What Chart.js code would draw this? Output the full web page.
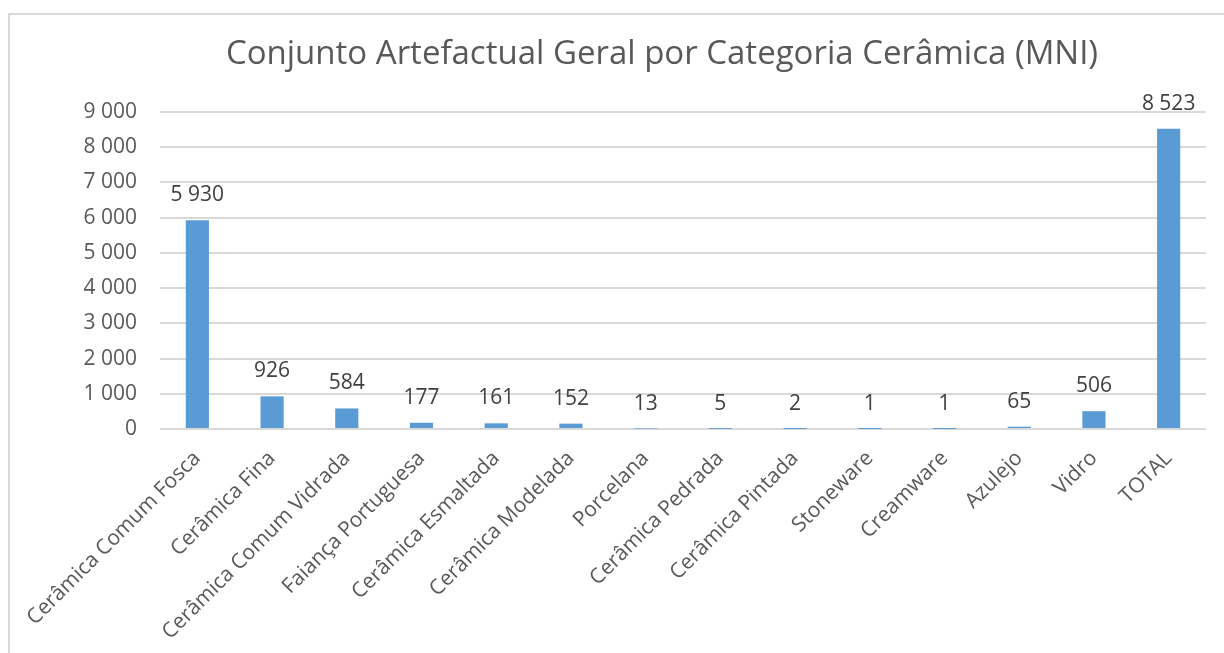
<!DOCTYPE html>
<html>
<head>
<meta charset="utf-8">
<script src="https://cdn.jsdelivr.net/npm/chart.js@4"></script>
<style>
  html, body { margin: 0; padding: 0; background: #fff; overflow: hidden; }
  #frame { position: absolute; left: 8px; top: 13px; width: 1240px; height: 700px; border: 2px solid #d9d9d9; box-sizing: border-box; }
  #wrap { position: absolute; left: 0; top: 0; width: 1224px; height: 653px; }
</style>
</head>
<body>
<div id="frame"></div>
<div id="wrap"><canvas id="chart"></canvas></div>
<script>
const categories = [
    'Cerâmica Comum Fosca', 'Cerâmica Fina', 'Cerâmica Comum Vidrada', 'Faiança Portuguesa',
    'Cerâmica Esmaltada', 'Cerâmica Modelada', 'Porcelana', 'Cerâmica Pedrada',
    'Cerâmica Pintada', 'Stoneware', 'Creamware', 'Azulejo', 'Vidro', 'TOTAL'
];
const mniValues = [5930, 926, 584, 177, 161, 152, 13, 5, 2, 1, 1, 65, 506, 8523];
const yTicks = [0, 1000, 2000, 3000, 4000, 5000, 6000, 7000, 8000, 9000];
const chartTitle = 'Conjunto Artefactual Geral por Categoria Cerâmica (MNI)';

const FONT = "'Open Sans', sans-serif";

// "8 523" style, space as thousands separator
function fmt(v) {
    return String(v).replace(/\B(?=(\d{3})+(?!\d))/g, ' ');
}

// value labels above each bar + the title (centred on the whole frame, not the canvas)
const extras = {
    id: 'extras',
    afterDatasetsDraw(chart) {
        const ctx = chart.ctx;
        const meta = chart.getDatasetMeta(0);
        ctx.save();
        ctx.font = '21px ' + FONT;
        ctx.fillStyle = '#404040';
        ctx.textAlign = 'center';
        ctx.textBaseline = 'middle';
        meta.data.forEach((bar, i) => {
            ctx.fillText(fmt(mniValues[i]), bar.x, bar.y - 25);
        });

        ctx.font = '33px ' + FONT;
        ctx.fillStyle = '#595959';
        ctx.fillText(chartTitle, chart.width / 2 + 50, 55);
        ctx.restore();
    }
};

const config = {
    type: 'bar',
    data: {
        labels: categories,
        datasets: [{
            label: 'MNI',
            data: mniValues,
            backgroundColor: '#5b9bd5',
            barPercentage: 0.31,
            categoryPercentage: 1
        }]
    },
    options: {
        responsive: true,
        maintainAspectRatio: false,
        animation: false,
        layout: { padding: { left: 0, right: 18, top: 112, bottom: 0 } },
        plugins: {
            legend: { display: false },
            tooltip: { enabled: false },
            title: { display: false }
        },
        scales: {
            x: {
                grid: { display: false },
                border: { display: false },
                ticks: {
                    color: '#595959',
                    font: { family: FONT, size: 21 },
                    minRotation: 45,
                    maxRotation: 45,
                    autoSkip: false,
                    padding: 9
                },
                afterFit(scale) { scale.height = 224; }
            },
            y: {
                min: 0,
                max: 9000,
                afterBuildTicks(scale) { scale.ticks = yTicks.map(v => ({ value: v })); },
                grid: { color: '#d9d9d9', lineWidth: 2, drawTicks: false },
                border: { display: false },
                ticks: {
                    color: '#595959',
                    font: { family: FONT, size: 21 },
                    padding: 23,
                    callback: (v) => fmt(v)
                },
                afterFit(scale) { scale.width = 160; }
            }
        }
    },
    plugins: [extras]
};

new Chart(document.getElementById('chart'), config);
</script>
</body>
</html>
